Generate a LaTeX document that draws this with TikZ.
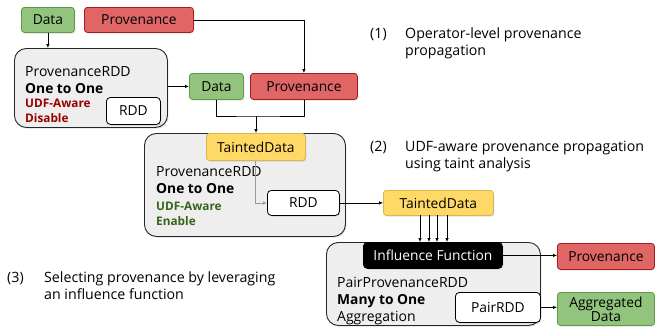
\documentclass[tikz,border=0pt]{standalone}
\usepackage{fontspec}
\setmainfont{Open Sans}
\usetikzlibrary{arrows.meta,shadows}
\definecolor{gfill}{HTML}{93C47D}
\definecolor{gline}{HTML}{5E9A48}
\definecolor{rfill}{HTML}{E06666}
\definecolor{rline}{HTML}{A61C1C}
\definecolor{yfill}{HTML}{FFD966}
\definecolor{yline}{HTML}{D6B656}
\definecolor{boxgrey}{HTML}{EEEEEE}
\definecolor{darkred}{HTML}{990000}
\definecolor{darkgreen}{HTML}{36641E}
\tikzset{
  base/.style={rectangle, rounded corners=3pt, line width=0.8pt, anchor=north west, inner sep=0pt,
    font=\fontsize{13.8}{15}\selectfont, drop shadow={opacity=0.25, shadow xshift=1pt, shadow yshift=-1.2pt}},
  greenbox/.style={base, fill=gfill, draw=gline},
  redbox/.style={base, fill=rfill, draw=rline},
  yellowbox/.style={base, fill=yfill, draw=yline},
  whitebox/.style={base, fill=white, draw=black, rounded corners=4pt, drop shadow={opacity=0}},
  blackbox/.style={base, fill=black, draw=black, text=white, rounded corners=4pt},
  greybox/.style={rectangle, rounded corners=12pt, line width=0.9pt, anchor=north west, fill=boxgrey, draw=black!85,
    drop shadow={opacity=0.25, shadow xshift=1pt, shadow yshift=-1.2pt}},
  lbl/.style={anchor=base west, inner sep=0pt, font=\fontsize{14}{15}\selectfont},
  boldlbl/.style={lbl, font=\fontsize{13.8}{15}\selectfont\bfseries},
  udf/.style={lbl, font=\fontsize{11.8}{13}\selectfont\bfseries},
  note/.style={anchor=base west, inner sep=0pt, font=\fontsize{14.2}{17}\selectfont},
  arr/.style={-{Latex[length=4pt,width=3.5pt]}, line width=0.7pt},
  ln/.style={line width=0.7pt}
}
\begin{document}
\begin{tikzpicture}[x=1pt,y=-1pt]
\useasboundingbox (0,0) rectangle (655,333);

% top inputs
\node[greenbox, minimum width=53pt, minimum height=25pt] (data1) at (21,7) {Data};
\node[redbox, minimum width=109pt, minimum height=25pt] (prov1) at (84,7) {Provenance};

% box 1
\node[greybox, minimum width=153pt, minimum height=79pt] (box1) at (14,48) {};
\node[lbl] (b1a) at (25,76) {ProvenanceRDD};
\node[boldlbl] (b1b) at (25,93) {One to One};
\node[udf, text=darkred] (b1c) at (25,107) {UDF-Aware};
\node[udf, text=darkred] (b1d) at (25,122) {Disable};
\node[whitebox, minimum width=54pt, minimum height=27pt] (rdd1) at (106,97) {RDD};

% middle data/provenance
\node[greenbox, minimum width=54pt, minimum height=26pt] (data2) at (189,73) {Data};
\node[redbox, minimum width=107pt, minimum height=26pt] (prov2) at (250,73) {Provenance};

% box 2
\node[greybox, minimum width=201pt, minimum height=103pt] (box2) at (144,133) {};
\node[yellowbox, minimum width=99pt, minimum height=27pt] (taint1) at (206,133) {TaintedData};
\node[lbl] (b2a) at (156,176) {ProvenanceRDD};
\node[boldlbl] (b2b) at (156,193) {One to One};
\node[udf, text=darkgreen] (b2c) at (156,210) {UDF-Aware};
\node[udf, text=darkgreen] (b2d) at (156,225) {Enable};
\node[whitebox, minimum width=72pt, minimum height=25pt] (rdd2) at (267,190) {RDD};

\node[yellowbox, minimum width=110pt, minimum height=25pt] (taint2) at (383,190) {TaintedData};

% box 3
\node[greybox, minimum width=214pt, minimum height=83pt] (box3) at (326,242) {};
\node[blackbox, minimum width=139pt, minimum height=26pt] (infl) at (363,242) {Influence Function};
\node[lbl] (b3a) at (337,287) {PairProvenanceRDD};
\node[boldlbl] (b3b) at (337,304) {Many to One};
\node[lbl] (b3c) at (337,321) {Aggregation};
\node[whitebox, minimum width=85pt, minimum height=30pt] (pairrdd) at (455,292) {PairRDD};

\node[redbox, minimum width=97pt, minimum height=26pt] (prov3) at (557,243) {Provenance};
\node[greenbox, minimum width=97pt, minimum height=33pt, align=center, font=\fontsize{13.8}{14}\selectfont] (agg) at (557,292) {Aggregated\\Data};

% notes
\node[note] (n1) at (370,38) {(1)};
\node[note] (n1t) at (405,38) {Operator-level provenance};
\node[note] (n1u) at (405,55) {propagation};
\node[note] (n2) at (370,151) {(2)};
\node[note] (n2t) at (405,151) {UDF-aware provenance propagation};
\node[note] (n2u) at (405,168) {using taint analysis};
\node[note] (n3) at (7,282) {(3)};
\node[note] (n3t) at (44,282) {Selecting provenance by leveraging};
\node[note] (n3u) at (44,299) {an influence function};

% connectors
\draw[arr] (data1.south) -- (data1.south |- box1.north);
\draw[arr] (prov1.east) -| (prov2.north);
\draw[arr] (box1.east |- data2.west) -- (data2.west);
\coordinate (join) at (256,116);
\draw[ln] (data2.south) |- (join) -| (prov2.south);
\draw[arr] (join) -- (join |- taint1.north);
\coordinate (gbend) at (255,203);
\draw[arr, draw=black!40, line width=0.6pt] (taint1.south -| gbend) -- (gbend) -- (rdd2.west |- gbend);
\draw[arr] (rdd2.east) -- (taint2.west);
\foreach \xx in {420,429,437,447} {
  \draw[arr] (\xx,215) -- (\xx,242);
}
\draw[arr] (infl.east) -- (prov3.west |- infl.east);
\draw[arr] (pairrdd.east) -- (agg.west |- pairrdd.east);
\end{tikzpicture}
\end{document}
